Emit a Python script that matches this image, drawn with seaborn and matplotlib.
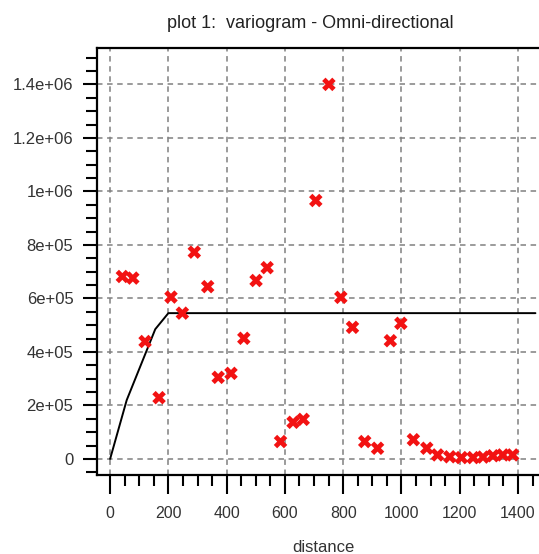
import matplotlib
matplotlib.use("Agg")
import matplotlib.pyplot as plt
from matplotlib.ticker import FixedLocator, MultipleLocator
import seaborn as sns
import pandas as pd

# experimental variogram points
distance = [42, 78, 120, 168, 209, 248, 289, 335, 371, 415, 459, 501, 539,
            585, 628, 663, 706, 751, 792, 832, 874, 918, 962, 998,
            1041, 1087, 1124, 1166, 1206, 1246, 1280, 1314, 1348, 1382]
gamma = [6.82e5, 6.76e5, 4.39e5, 2.29e5, 6.05e5, 5.45e5, 7.73e5, 6.44e5,
         3.05e5, 3.20e5, 4.51e5, 6.67e5, 7.15e5,
         6.5e4, 1.37e5, 1.48e5, 9.66e5, 1.40e6, 6.04e5, 4.92e5, 6.5e4, 4.0e4,
         4.42e5, 5.07e5,
         7.2e4, 4.0e4, 1.5e4, 8e3, 5e3, 5e3, 7e3, 1.2e4, 1.5e4, 1.5e4]

# fitted model line vertices
model_x = [0, 57, 155, 200, 1460]
model_y = [0, 2.2e5, 4.85e5, 5.45e5, 5.45e5]

x_ticks = [0, 200, 400, 600, 800, 1000, 1200, 1400]
y_ticks = [0, 2e5, 4e5, 6e5, 8e5, 1e6, 1.2e6, 1.4e6]
y_tick_labels = ["0", "2e+05", "4e+05", "6e+05", "8e+05", "1e+06", "1.2e+06", "1.4e+06"]

title = "plot 1:  variogram - Omni-directional"
xlabel = "distance"

sns.set_theme(style="white")
plt.rcParams["font.family"] = ["Liberation Sans", "DejaVu Sans"]

fig = plt.figure(figsize=(5.39, 5.54), dpi=100)
ax = fig.add_axes([97 / 539, 1 - 475 / 554, 453 / 539, (475 - 48) / 554])

pts = pd.DataFrame({"distance": distance, "gamma": gamma})
mdl = pd.DataFrame({"distance": model_x, "gamma": model_y})

ax.grid(True, which="major", color="#808080", linestyle=(0, (3.6, 3.0)), linewidth=1.1)
ax.set_axisbelow(True)

sns.lineplot(data=mdl, x="distance", y="gamma", ax=ax, color="black",
             linewidth=1.4, sort=False, estimator=None, zorder=3)
sns.scatterplot(data=pts, x="distance", y="gamma", ax=ax, marker="X",
                color="#f21212", s=95, edgecolor="none", linewidth=0, zorder=4)

ax.set_xlim(-45, 1510)
ax.set_ylim(-6e4, 1.536e6)

ax.xaxis.set_major_locator(FixedLocator(x_ticks))
ax.xaxis.set_minor_locator(MultipleLocator(50))
ax.yaxis.set_major_locator(FixedLocator(y_ticks))
ax.yaxis.set_minor_locator(MultipleLocator(5e4))
ax.set_yticklabels(y_tick_labels)

ax.tick_params(axis="both", which="both", direction="out", color="black",
               bottom=True, left=True, top=False, right=False)
ax.tick_params(axis="x", which="major", length=13.5, width=1.5, pad=9,
               labelsize=11.5, labelcolor="#333333")
ax.tick_params(axis="x", which="minor", length=8, width=1.5)
ax.tick_params(axis="y", which="major", length=10, width=1.5, pad=7,
               labelsize=12, labelcolor="#333333")
ax.tick_params(axis="y", which="minor", length=8, width=1.5)

for side in ["left", "bottom", "top"]:
    ax.spines[side].set_color("black")
    ax.spines[side].set_linewidth(1.6)
    ax.spines[side].set_visible(True)
ax.spines["right"].set_visible(False)

ax.set_xlabel(xlabel, fontsize=12, color="#333333")
ax.xaxis.set_label_coords(323 / 539, 1 - 547 / 554, transform=fig.transFigure)
ax.xaxis.label.set_verticalalignment("center")
ax.set_ylabel("")

fig.text(310 / 539, 1 - 23 / 554, title, ha="center", va="center",
         fontsize=13, color="#222222")

fig.savefig("out.png", dpi=100)
